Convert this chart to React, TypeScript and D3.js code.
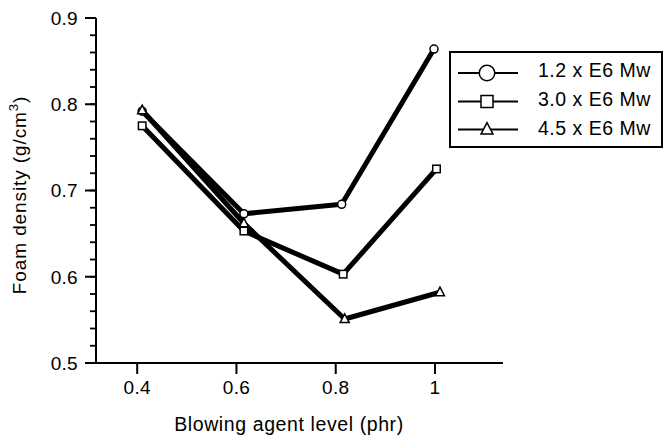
import React from "react";
import * as d3 from "d3";

const seriesNames = ["1.2 x E6 Mw", "3.0 x E6 Mw", "4.5 x E6 Mw"];
const seriesShapes = ["circle", "square", "triangle"];
const xCircle = [0.41, 0.615, 0.812, 0.998];
const yCircle = [0.792, 0.673, 0.684, 0.864];
const xSquare = [0.41, 0.615, 0.815, 1.003];
const ySquare = [0.775, 0.653, 0.603, 0.725];
const xTriangle = [0.41, 0.615, 0.818, 1.01];
const yTriangle = [0.793, 0.662, 0.551, 0.582];
const xTicks = [0.4, 0.6, 0.8, 1];
const xTickLabels = ["0.4", "0.6", "0.8", "1"];
const yTicks = [0.5, 0.6, 0.7, 0.8, 0.9];
const yTickLabels = ["0.5", "0.6", "0.7", "0.8", "0.9"];
const yMinorTicks = d3.range(0.5, 0.9001, 0.02);

const FONT = "'Liberation Sans', Arial, Helvetica, sans-serif";

function Marker({ shape, cx, cy, s }: { shape: string; cx: number; cy: number; s: number }) {
  if (shape === "circle") {
    return <circle cx={cx} cy={cy} r={s / 2} fill="#fff" stroke="#000" strokeWidth={1.5} />;
  }
  if (shape === "square") {
    return <rect x={cx - s / 2} y={cy - s / 2} width={s} height={s} fill="#fff" stroke="#000" strokeWidth={1.5} />;
  }
  const h = s * 0.95;
  const p = `M${cx},${cy - h * 0.6} L${cx + s / 2},${cy + h * 0.4} L${cx - s / 2},${cy + h * 0.4} Z`;
  return <path d={p} fill="#fff" stroke="#000" strokeWidth={1.5} strokeLinejoin="miter" />;
}

export default function App() {
  const width = 664;
  const height = 437;
  const x = d3.scaleLinear().domain([0.317, 1.137]).range([96, 503]);
  const y = d3.scaleLinear().domain([0.5, 0.9]).range([363, 18]);
  const series = [
    { xs: xCircle, ys: yCircle },
    { xs: xSquare, ys: ySquare },
    { xs: xTriangle, ys: yTriangle },
  ];
  const line = d3
    .line<[number, number]>()
    .x((d) => x(d[0]))
    .y((d) => y(d[1]));
  const dataMarkerSize = [8, 7.5, 9];
  const legendMarkerSize = [15.5, 12, 12];
  const legendRows = [73, 101.5, 129.5];
  const legendBaselines = [77, 105.5, 134.5];

  return (
    <svg width={width} height={height} style={{ position: "absolute", left: 0, top: 0, background: "#fff" }}>
      <rect x={0} y={0} width={width} height={height} fill="#fff" />
      {/* axes */}
      <line x1={96} x2={96} y1={y(0.9)} y2={y(0.5)} stroke="#000" strokeWidth={2} />
      <line x1={85} x2={x(1.137)} y1={363} y2={363} stroke="#000" strokeWidth={2} />
      {yMinorTicks.map((t, i) => (
        <line key={"m" + i} x1={90} x2={96} y1={y(t)} y2={y(t)} stroke="#000" strokeWidth={1.8} />
      ))}
      {yTicks.map((t, i) => (
        <g key={"y" + i}>
          <line x1={85} x2={96} y1={y(t)} y2={y(t)} stroke="#000" strokeWidth={2} />
          <text x={78} y={y(t)} dy="0.36em" textAnchor="end" fontFamily={FONT} fontSize={19} letterSpacing={0.3}>
            {yTickLabels[i]}
          </text>
        </g>
      ))}
      {xTicks.map((t, i) => (
        <g key={"x" + i}>
          <line x1={x(t)} x2={x(t)} y1={363} y2={374} stroke="#000" strokeWidth={2} />
          <text x={x(t)} y={394} textAnchor="middle" fontFamily={FONT} fontSize={19} letterSpacing={0.3}>
            {xTickLabels[i]}
          </text>
        </g>
      ))}
      <text x={289} y={431} textAnchor="middle" fontFamily={FONT} fontSize={19.5} letterSpacing={0.6}>
        Blowing agent level (phr)
      </text>
      <text
        transform="translate(26,195) rotate(-90)"
        textAnchor="middle"
        fontFamily={FONT}
        fontSize={19}
        letterSpacing={0.9}
      >
        Foam density (g/cm
        <tspan fontSize={13} dy={-8}>3</tspan>
        <tspan dy={8}>)</tspan>
      </text>
      {/* series lines */}
      {series.map((s, i) => (
        <path
          key={"l" + i}
          d={line(s.xs.map((v, j) => [v, s.ys[j]] as [number, number])) || ""}
          fill="none"
          stroke="#000"
          strokeWidth={5}
          strokeLinejoin="round"
        />
      ))}
      {series.map((s, i) =>
        s.xs.map((v, j) => (
          <Marker key={"p" + i + "-" + j} shape={seriesShapes[i]} cx={x(v)} cy={y(s.ys[j])} s={dataMarkerSize[i]} />
        ))
      )}
      {/* legend */}
      <rect x={450} y={52} width={212} height={95} fill="#fff" stroke="#000" strokeWidth={2} />
      {seriesNames.map((n, i) => (
        <g key={"lg" + i}>
          <line x1={458} x2={518} y1={legendRows[i]} y2={legendRows[i]} stroke="#000" strokeWidth={2} />
          <Marker shape={seriesShapes[i]} cx={487} cy={legendRows[i]} s={legendMarkerSize[i]} />
          <text x={538} y={legendBaselines[i]} fontFamily={FONT} fontSize={19.5} letterSpacing={0.5}>
            {n}
          </text>
        </g>
      ))}
    </svg>
  );
}
